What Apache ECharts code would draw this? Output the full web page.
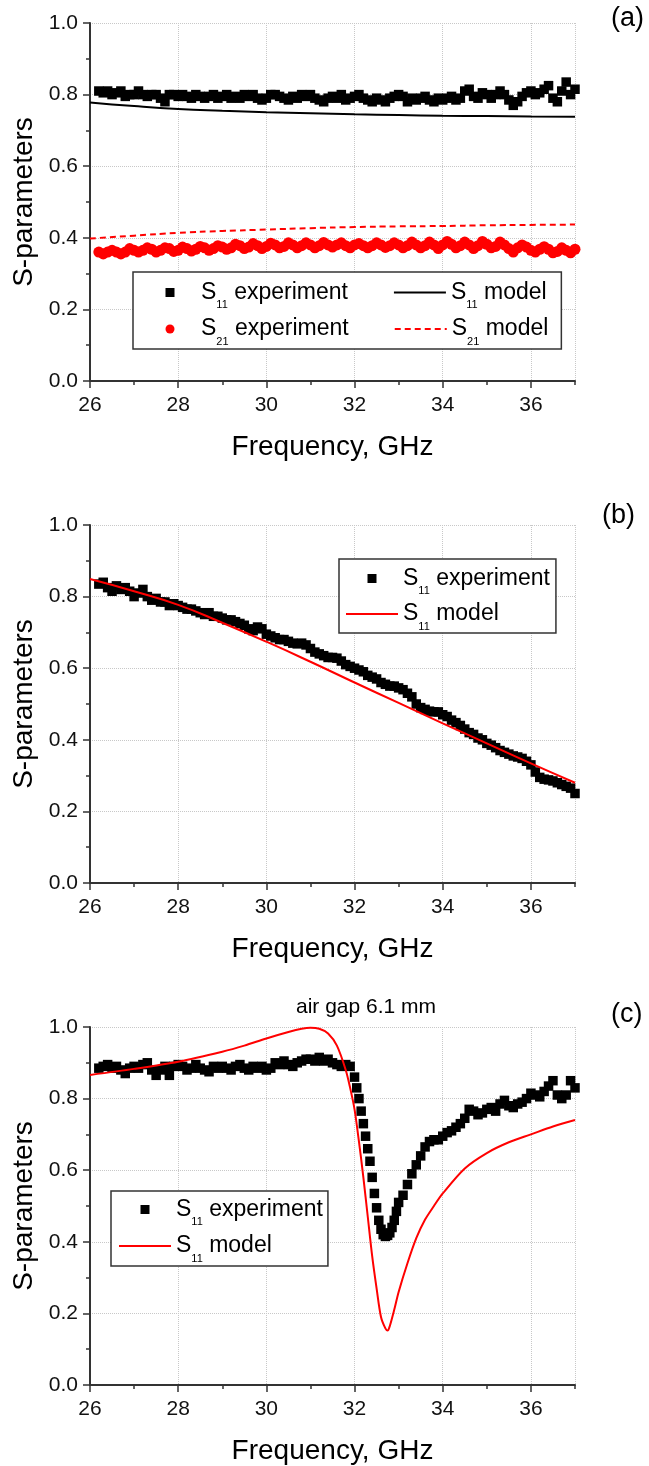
<!DOCTYPE html>
<html>
<head>
<meta charset="utf-8">
<script src="https://cdn.jsdelivr.net/npm/echarts@6.0.0/dist/echarts.min.js"></script>
<style>
  html, body { margin: 0; padding: 0; background: #fff; }
  #chart { width: 649px; height: 1466px; }
</style>
</head>
<body>
<div id="chart"></div>
<script>
// measured points start at 26.2 GHz, one every 0.1 GHz
var expStart = 26.2;

// ---- panel (a)
var s11ExpA = [
  0.81, 0.805, 0.81, 0.80, 0.805, 0.81, 0.795, 0.80, 0.80,
  0.81, 0.80, 0.795, 0.80, 0.80, 0.79, 0.78, 0.80, 0.80, 0.795,
  0.80, 0.795, 0.79, 0.80, 0.795, 0.79, 0.795, 0.80, 0.79, 0.795,
  0.80, 0.79, 0.795, 0.79, 0.80, 0.795, 0.80, 0.79, 0.785, 0.79,
  0.80, 0.80, 0.795, 0.79, 0.785, 0.795, 0.79, 0.80, 0.795, 0.80,
  0.79, 0.785, 0.78, 0.79, 0.795, 0.79, 0.80, 0.785, 0.79, 0.795,
  0.80, 0.79, 0.785, 0.78, 0.79, 0.785, 0.78, 0.79, 0.795, 0.80,
  0.795, 0.78, 0.79, 0.785, 0.79, 0.795, 0.785, 0.78, 0.79, 0.785,
  0.79, 0.795, 0.785, 0.79, 0.81, 0.815, 0.795, 0.79, 0.805, 0.80,
  0.79, 0.80, 0.81, 0.80, 0.785, 0.77, 0.78, 0.795, 0.805, 0.81,
  0.80, 0.805, 0.815, 0.825, 0.79, 0.78, 0.81, 0.835, 0.80, 0.815
];
var s21ExpA = [
  0.36, 0.355, 0.36, 0.365, 0.36, 0.355, 0.36, 0.37, 0.365,
  0.36, 0.365, 0.372, 0.368, 0.36, 0.365, 0.372, 0.37, 0.362, 0.365,
  0.374, 0.37, 0.363, 0.368, 0.376, 0.372, 0.365, 0.37, 0.378, 0.374,
  0.368, 0.372, 0.382, 0.378, 0.37, 0.374, 0.384, 0.378, 0.37, 0.376,
  0.385, 0.38, 0.372, 0.376, 0.386, 0.38, 0.372, 0.378, 0.386, 0.38,
  0.372, 0.378, 0.387, 0.38, 0.374, 0.38, 0.386, 0.378, 0.372, 0.38,
  0.384, 0.378, 0.372, 0.378, 0.386, 0.38, 0.373, 0.378, 0.386, 0.38,
  0.372, 0.378, 0.388, 0.38, 0.372, 0.378, 0.388, 0.38, 0.37, 0.38,
  0.39, 0.382, 0.372, 0.378, 0.388, 0.38, 0.37, 0.378, 0.39, 0.382,
  0.372, 0.376, 0.388, 0.38, 0.37, 0.36, 0.372, 0.38, 0.374, 0.365,
  0.36, 0.368, 0.375, 0.368, 0.358, 0.362, 0.372, 0.365, 0.358, 0.368
];
var modelFreqA = [26, 27, 28, 29, 30, 31, 32, 33, 34, 35, 36, 37];
var s11ModelA = [0.778, 0.768, 0.760, 0.755, 0.751, 0.748, 0.745, 0.743, 0.741, 0.740, 0.739, 0.738];
var s21ModelA = [0.398, 0.406, 0.414, 0.419, 0.423, 0.427, 0.430, 0.432, 0.433, 0.435, 0.436, 0.437];

// ---- panel (b)
var s11ExpB = [
  0.835, 0.84, 0.825, 0.815, 0.83, 0.82, 0.825, 0.815, 0.80,
  0.81, 0.82, 0.80, 0.79, 0.795, 0.785, 0.785, 0.775, 0.78, 0.775,
  0.77, 0.765, 0.765, 0.76, 0.755, 0.75, 0.755, 0.745, 0.745, 0.74,
  0.735, 0.735, 0.73, 0.725, 0.72, 0.71, 0.705, 0.715, 0.71, 0.695,
  0.69, 0.685, 0.68, 0.68, 0.675, 0.67, 0.668, 0.67, 0.665, 0.655,
  0.645, 0.64, 0.635, 0.63, 0.63, 0.628, 0.62, 0.61, 0.605, 0.60,
  0.595, 0.59, 0.58, 0.575, 0.57, 0.56, 0.555, 0.55, 0.55, 0.545,
  0.54, 0.53, 0.52, 0.50, 0.49, 0.485, 0.48, 0.478, 0.478, 0.47,
  0.465, 0.455, 0.448, 0.44, 0.43, 0.42, 0.415, 0.405, 0.40, 0.39,
  0.385, 0.378, 0.37, 0.365, 0.36, 0.355, 0.352, 0.348, 0.34, 0.33,
  0.31, 0.295, 0.29, 0.288, 0.285, 0.28, 0.275, 0.27, 0.265, 0.25
];
var modelFreqB = [26, 27, 28, 29, 30, 31, 32, 33, 34, 35, 36, 37];
var s11ModelB = [0.849, 0.815, 0.777, 0.727, 0.674, 0.618, 0.56, 0.503, 0.446, 0.39, 0.334, 0.28];

// ---- panel (c)
var s11ExpC1 = [ // 26.2 .. 31.9
  0.885, 0.89, 0.895, 0.885, 0.89, 0.88, 0.87, 0.885, 0.89,
  0.885, 0.895, 0.90, 0.88, 0.865, 0.88, 0.89, 0.865, 0.89, 0.895,
  0.89, 0.88, 0.885, 0.895, 0.885, 0.88, 0.875, 0.89, 0.885, 0.89,
  0.885, 0.88, 0.89, 0.895, 0.885, 0.88, 0.89, 0.885, 0.89, 0.88,
  0.885, 0.90, 0.895, 0.905, 0.895, 0.89, 0.90, 0.905, 0.91, 0.91,
  0.905, 0.915, 0.905, 0.91, 0.90, 0.895, 0.89, 0.895, 0.89
];
var dipFreqC = [32.0, 32.05, 32.1, 32.15, 32.2, 32.25, 32.3, 32.35, 32.4, 32.45, 32.5,
  32.55, 32.6, 32.65, 32.7, 32.75, 32.8, 32.85, 32.9, 32.95, 33.0];
var s11ExpCdip = [0.86, 0.83, 0.80, 0.765, 0.73, 0.695, 0.66, 0.625, 0.58, 0.535, 0.495,
  0.46, 0.435, 0.42, 0.415, 0.418, 0.425, 0.44, 0.46, 0.485, 0.51];
var s11ExpC2 = [ // 33.1 .. 37.0
  0.53, 0.56, 0.59, 0.615, 0.64, 0.665, 0.68, 0.685, 0.685, 0.695,
  0.705, 0.71, 0.72, 0.73, 0.745, 0.77, 0.765, 0.755, 0.76, 0.77,
  0.775, 0.765, 0.785, 0.795, 0.78, 0.775, 0.785, 0.79, 0.80, 0.815,
  0.81, 0.805, 0.82, 0.835, 0.85, 0.81, 0.80, 0.81, 0.85, 0.83
];
var modelFreqC = [26, 27, 28, 29, 29.5, 30, 30.5, 30.8, 31.0, 31.2, 31.4, 31.6, 31.8, 31.9,
  32.0, 32.1, 32.2, 32.3, 32.4, 32.5, 32.6, 32.7, 32.75, 32.8, 32.9, 33.0, 33.2, 33.4,
  33.6, 33.8, 34.0, 34.5, 35, 35.5, 36, 36.5, 37];
var s11ModelC = [0.866, 0.883, 0.903, 0.931, 0.948, 0.968, 0.986, 0.995, 0.998, 0.995, 0.982, 0.948, 0.88, 0.83,
  0.77, 0.68, 0.58, 0.47, 0.36, 0.27, 0.19, 0.158, 0.152, 0.165, 0.21, 0.26, 0.34, 0.41,
  0.462, 0.50, 0.535, 0.605, 0.648, 0.678, 0.70, 0.722, 0.74];

var xTicks = { min: 26, max: 37, interval: 2 };
var yTicks = { min: 0, max: 1, interval: 0.2 };

var FONT = "'Liberation Sans', Arial, Helvetica, sans-serif";

function expPairs(start, vals) {
  return vals.map(function (v, i) {
    return [Math.round((start + i * 0.1) * 100) / 100, v];
  });
}
function zip(xs, ys) {
  return xs.map(function (x, i) { return [x, ys[i]]; });
}

var dom = document.getElementById("chart");
var myChart = echarts.init(dom, null, { renderer: "canvas", width: 649, height: 1466 });

var gridTops = [23, 525, 1027];
var grids = gridTops.map(function (t) {
  return { left: 90, top: t, width: 485, height: 358 };
});

var xAxes = [];
var yAxes = [];
gridTops.forEach(function (t, g) {
  // main x axis: labels, grid lines, long ticks
  xAxes.push({
    gridIndex: g, type: "value", position: "bottom",
    min: xTicks.min, max: xTicks.max, interval: xTicks.interval,
    name: "Frequency, GHz", nameLocation: "middle", nameGap: 52,
    nameTextStyle: { fontFamily: FONT, fontSize: 28, color: "#000" },
    axisLine: { onZero: false, lineStyle: { color: "#333", width: 2 } },
    axisTick: { length: 7, lineStyle: { color: "#333", width: 1.5 } },
    axisLabel: { fontFamily: FONT, fontSize: 21, color: "#111", margin: 14, showMaxLabel: false },
    splitLine: { show: true, lineStyle: { color: "#c8c8c8", type: "dotted", width: 1 } }
  });
  // second axis only for the short odd-GHz ticks
  xAxes.push({
    gridIndex: g, type: "value", position: "bottom",
    min: xTicks.min, max: xTicks.max, interval: 1,
    axisLine: { show: false, onZero: false },
    axisTick: { length: 4, lineStyle: { color: "#333", width: 1.5 } },
    axisLabel: { show: false },
    splitLine: { show: false }
  });
  yAxes.push({
    gridIndex: g, type: "value",
    min: yTicks.min, max: yTicks.max, interval: yTicks.interval,
    name: "S-parameters", nameLocation: "middle", nameGap: 44,
    nameTextStyle: { fontFamily: FONT, fontSize: 28, color: "#000" },
    axisLine: { show: true, lineStyle: { color: "#333", width: 2 } },
    axisTick: { show: true, length: 7, lineStyle: { color: "#333", width: 1.5 } },
    minorTick: { show: true, splitNumber: 2, length: 4, lineStyle: { color: "#333", width: 1.5 } },
    axisLabel: {
      fontFamily: FONT, fontSize: 21, color: "#111", margin: 12,
      formatter: function (v) { return v.toFixed(1); }
    },
    splitLine: { show: true, lineStyle: { color: "#c8c8c8", type: "dotted", width: 1 } }
  });
});

function scatter(name, g, data, symbol, size, color) {
  return {
    name: name, type: "scatter", xAxisIndex: g * 2, yAxisIndex: g,
    data: data, symbol: symbol, symbolSize: size,
    itemStyle: { color: color, opacity: 1 }, silent: true
  };
}
function model(name, g, data, color, dash, smooth) {
  return {
    name: name, type: "line", xAxisIndex: g * 2, yAxisIndex: g,
    data: data, symbol: "none", smooth: smooth,
    lineStyle: { color: color, width: 2, type: dash ? [6, 4] : "solid" },
    itemStyle: { color: color }, silent: true, z: 3
  };
}

var s11ExpCData = expPairs(expStart, s11ExpC1)
  .concat(zip(dipFreqC, s11ExpCdip))
  .concat(expPairs(33.1, s11ExpC2));

var series = [
  scatter("S11 experiment a", 0, expPairs(expStart, s11ExpA), "rect", 9.5, "#000"),
  scatter("S21 experiment a", 0, expPairs(expStart, s21ExpA), "circle", 11, "#ff0000"),
  model("S11 model a", 0, zip(modelFreqA, s11ModelA), "#000", false, true),
  model("S21 model a", 0, zip(modelFreqA, s21ModelA), "#ff0000", true, true),
  scatter("S11 experiment b", 1, expPairs(expStart, s11ExpB), "rect", 9.5, "#000"),
  model("S11 model b", 1, zip(modelFreqB, s11ModelB), "#ff0000", false, true),
  scatter("S11 experiment c", 2, s11ExpCData, "rect", 9.5, "#000"),
  model("S11 model c", 2, zip(modelFreqC, s11ModelC), "#ff0000", false, 0.3)
];

var richText = {
  m: { fontFamily: FONT, fontSize: 23, lineHeight: 36, color: "#000" },
  mp: { fontFamily: FONT, fontSize: 23, lineHeight: 36, color: "#000", padding: [0, 38, 0, 0] },
  s: { fontFamily: FONT, fontSize: 11, lineHeight: 12, verticalAlign: "bottom", color: "#000" }
};
function legendLabel(name) {
  var m = name.match(/^S(\d\d) (\w+) (\w)$/);
  var last = (m[3] === "a" && m[2] === "experiment") ? "mp" : "m";
  return "{m|S}{s|" + m[1] + "}{" + last + "| " + m[2] + "}";
}
var squareIcon = "path://M0,0L10,0L10,10L0,10Z";
function legendItems(names) {
  return names.map(function (n) {
    if (n === "") return "";  // line break in a horizontal legend
    // line legends: hide the marker that ECharts puts in the middle of the line
    if (n.indexOf("model") >= 0) return { name: n, itemStyle: { opacity: 0 } };
    if (n.indexOf("S11 experiment") === 0) return { name: n, icon: squareIcon };
    return { name: n };
  });
}
function legend(names, extra) {
  var base = {
    data: legendItems(names), selectedMode: false, itemWidth: 52, itemHeight: 9, itemGap: 7,
    symbolKeepAspect: true,
    borderColor: "#333", borderWidth: 1.5, backgroundColor: "#fff",
    formatter: legendLabel, textStyle: { rich: richText }
  };
  return Object.assign(base, extra);
}

var titleStyle = { fontFamily: FONT, fontSize: 27, fontWeight: "normal", color: "#000" };

var option = {
  animation: false,
  backgroundColor: "#fff",
  title: [
    { text: "(a)", left: 611, top: 5, padding: 0, textStyle: titleStyle },
    { text: "(b)", left: 602, top: 502, padding: 0, textStyle: titleStyle },
    { text: "(c)", left: 611, top: 1001, padding: 0, textStyle: titleStyle },
    { text: "air gap 6.1 mm", left: 296, top: 997, padding: 0,
      textStyle: { fontFamily: FONT, fontSize: 21, fontWeight: "normal", color: "#000" } }
  ],
  legend: [
    legend(["S11 experiment a", "S11 model a", "", "S21 experiment a", "S21 model a"],
      { orient: "horizontal", left: 133, top: 272, padding: [9, 13, 2, 11] }),
    legend(["S11 experiment b", "S11 model b"],
      { orient: "vertical", left: 339, top: 559, itemGap: 6, padding: [8, 6, 1, 6] }),
    legend(["S11 experiment c", "S11 model c"],
      { orient: "vertical", left: 111, top: 1191, padding: [7, 5, 2, 7] })
  ],
  grid: grids,
  xAxis: xAxes,
  yAxis: yAxes,
  series: series
};

if (option && typeof option === "object") {
  myChart.setOption(option);
}

window.addEventListener("resize", myChart.resize);
</script>
</body>
</html>
